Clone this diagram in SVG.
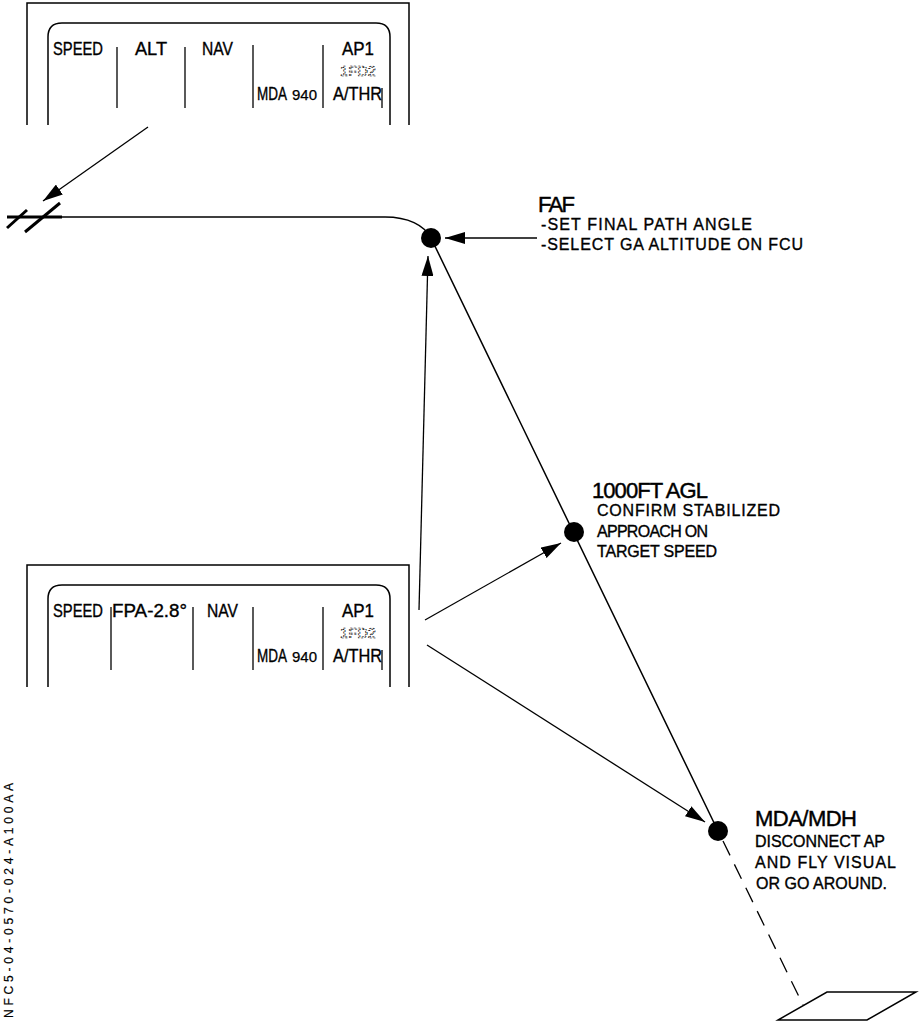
<svg xmlns="http://www.w3.org/2000/svg" width="924" height="1022" viewBox="0 0 924 1022">
  <style>
    .frame { fill: none; stroke: #000; stroke-width: 1.5; }
    .sep { stroke: #000; stroke-width: 1.3; }
    .fma { font-family: "Liberation Sans", Arial, sans-serif; font-size: 18px; fill: #000; stroke: #000; stroke-width: 0.35; }
    .fma-small { font-family: "Liberation Sans", Arial, sans-serif; font-size: 14px; fill: #000; stroke: #000; stroke-width: 0.25; }
    .fd { font-family: "Liberation Sans", Arial, sans-serif; font-size: 14px; fill: none; stroke: #000; stroke-width: 0.7; stroke-dasharray: 2 1.5; }
    .head { font-family: "Liberation Sans", Arial, sans-serif; font-size: 22px; fill: #000; stroke: #000; stroke-width: 0.45; }
    .note { font-family: "Liberation Sans", Arial, sans-serif; font-size: 16px; fill: #000; stroke: #000; stroke-width: 0.35; }
    .ref { font-family: "Liberation Sans", Arial, sans-serif; font-size: 12px; fill: #000; stroke: #000; stroke-width: 0.2; }
    .path { fill: none; stroke: #000; stroke-width: 1.5; }
    .arrow { fill: none; stroke: #000; stroke-width: 1.3; marker-end: url(#head); }
    .dot { fill: #000; }
  </style>
  <defs>
    <marker id="head" markerUnits="userSpaceOnUse" markerWidth="21" markerHeight="12" refX="20" refY="6" orient="auto">
      <path d="M0,0 L20,6 L0,12 z" fill="#000"/>
    </marker>
    <!-- flight mode annunciator frame, shared by both panels -->
    <g id="fma-frame">
      <path class="frame" d="M27,125 V3 H409 V125"/>
      <path class="frame" d="M48,125 V37 Q48,23 62,23 H376 Q390,23 390,37 V125"/>
      <line class="sep" x1="253" y1="45" x2="253" y2="108"/>
      <line class="sep" x1="323" y1="45" x2="323" y2="108"/>
      <line class="sep" x1="382" y1="88" x2="382" y2="108"/>
      <text class="fma" x="358" y="55" text-anchor="middle" textLength="32" lengthAdjust="spacingAndGlyphs">AP1</text>
      <text class="fd" x="358" y="76" text-anchor="middle" textLength="36" lengthAdjust="spacingAndGlyphs">1FD2</text>
      <text class="fma" x="257" y="100" textLength="30" lengthAdjust="spacingAndGlyphs">MDA</text>
      <text class="fma-small" x="292" y="100" textLength="25" lengthAdjust="spacingAndGlyphs">940</text>
      <text class="fma" x="333" y="100" textLength="49" lengthAdjust="spacingAndGlyphs">A/THR</text>
      <text class="fma" x="53" y="55" textLength="50" lengthAdjust="spacingAndGlyphs">SPEED</text>
    </g>
  </defs>

  <!-- FMA before FAF -->
  <g id="fma-top">
    <use href="#fma-frame"/>
    <line class="sep" x1="117" y1="47" x2="117" y2="108"/>
    <line class="sep" x1="185" y1="47" x2="185" y2="108"/>
    <text class="fma" x="135" y="55" textLength="32" lengthAdjust="spacingAndGlyphs">ALT</text>
    <text class="fma" x="202" y="55" textLength="31" lengthAdjust="spacingAndGlyphs">NAV</text>
  </g>

  <!-- FMA during final descent -->
  <g id="fma-bottom" transform="translate(0,562)">
    <use href="#fma-frame"/>
    <line class="sep" x1="111" y1="45" x2="111" y2="108"/>
    <line class="sep" x1="193" y1="45" x2="193" y2="108"/>
    <text class="fma" x="112" y="55" textLength="75" lengthAdjust="spacingAndGlyphs">FPA-2.8°</text>
    <text class="fma" x="207" y="55" textLength="31" lengthAdjust="spacingAndGlyphs">NAV</text>
  </g>

  <!-- flight path: level segment, final descent, visual segment -->
  <g id="connectors">
    <line x1="7" y1="217" x2="62" y2="217" stroke="#000" stroke-width="3.2"/>
    <line x1="7" y1="228" x2="27" y2="210" stroke="#000" stroke-width="3"/>
    <line x1="25" y1="232" x2="60" y2="203" stroke="#000" stroke-width="3"/>
    <path class="path" d="M60,217 H385 C408,217 424,225 431,238 L718,831"/>
    <line x1="723" y1="841" x2="803" y2="1005" stroke="#000" stroke-width="1.3" stroke-dasharray="16 10"/>
    <polygon points="778,1020 867,1020 916,992 827,992" fill="none" stroke="#000" stroke-width="1.5"/>

    <line class="arrow" x1="148" y1="127" x2="43" y2="201"/>
    <line class="arrow" x1="537" y1="238" x2="445" y2="238"/>
    <line class="arrow" x1="419" y1="610" x2="428" y2="256"/>
    <line class="arrow" x1="425" y1="620" x2="561" y2="543"/>
    <line class="arrow" x1="427" y1="645" x2="705" y2="822"/>
  </g>

  <g id="faf">
    <circle class="dot" cx="431" cy="238" r="10"/>
    <text class="head" x="538" y="212" textLength="37">FAF</text>
    <text class="note" x="541" y="230" textLength="211">-SET FINAL PATH ANGLE</text>
    <text class="note" x="541" y="250" textLength="262">-SELECT GA ALTITUDE ON FCU</text>
  </g>

  <g id="agl-1000">
    <circle class="dot" cx="574" cy="532" r="10"/>
    <text class="head" x="592" y="498" textLength="116">1000FT AGL</text>
    <text class="note" x="597" y="516" textLength="183">CONFIRM STABILIZED</text>
    <text class="note" x="597" y="537" textLength="111">APPROACH ON</text>
    <text class="note" x="597" y="557" textLength="120">TARGET SPEED</text>
  </g>

  <g id="mda">
    <circle class="dot" cx="718" cy="831" r="10"/>
    <text class="head" x="755" y="826" textLength="102">MDA/MDH</text>
    <text class="note" x="755" y="847" textLength="130">DISCONNECT AP</text>
    <text class="note" x="755" y="868" textLength="141">AND FLY VISUAL</text>
    <text class="note" x="756" y="889" textLength="131">OR GO AROUND.</text>
  </g>

  <text class="ref" transform="translate(13,1018) rotate(-90)" textLength="235">NFC5-04-0570-024-A100AA</text>
</svg>
